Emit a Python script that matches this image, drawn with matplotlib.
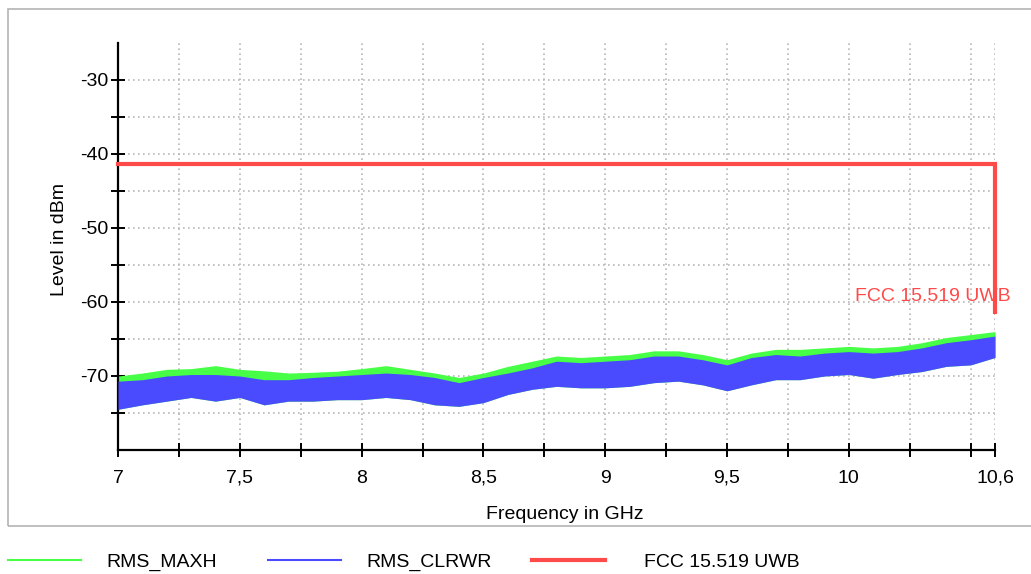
import matplotlib
matplotlib.use("Agg")
import matplotlib.pyplot as plt
from matplotlib.lines import Line2D
from matplotlib.patches import Rectangle
from matplotlib.ticker import FixedLocator, FixedFormatter

plt.rcParams['font.family'] = ['Liberation Sans', 'DejaVu Sans']
plt.rcParams['axes.unicode_minus'] = False

# Frequenzraster in GHz
freq = [7.0, 7.1, 7.2, 7.3, 7.4, 7.5, 7.6, 7.7, 7.8, 7.9,
        8.0, 8.1, 8.2, 8.3, 8.4, 8.5, 8.6, 8.7, 8.8, 8.9,
        9.0, 9.1, 9.2, 9.3, 9.4, 9.5, 9.6, 9.7, 9.8, 9.9,
        10.0, 10.1, 10.2, 10.3, 10.4, 10.5, 10.6]

# RMS_MAXH, obere Huellkurve (dBm)
maxh_top = [-70.0, -69.6, -69.1, -69.0, -68.6, -69.1, -69.3, -69.6, -69.5, -69.35,
            -69.0, -68.6, -69.1, -69.6, -70.2, -69.6, -68.7, -68.0, -67.3, -67.5,
            -67.3, -67.1, -66.6, -66.6, -67.1, -67.8, -66.9, -66.4, -66.4, -66.2,
            -66.0, -66.2, -66.0, -65.5, -64.8, -64.4, -64.0]

# RMS_CLRWR, obere und untere Huellkurve (dBm)
clrwr_top = [-70.7, -70.5, -70.0, -69.8, -69.8, -70.0, -70.5, -70.5, -70.2, -70.0,
             -69.8, -69.6, -69.8, -70.2, -70.9, -70.2, -69.6, -68.9, -68.0, -68.2,
             -68.0, -67.8, -67.3, -67.3, -67.8, -68.5, -67.5, -67.1, -67.3, -66.9,
             -66.7, -66.9, -66.7, -66.2, -65.5, -65.1, -64.6]
clrwr_bot = [-74.5, -73.9, -73.4, -72.9, -73.4, -72.9, -73.9, -73.4, -73.4, -73.2,
             -73.2, -72.9, -73.2, -73.9, -74.1, -73.6, -72.5, -71.8, -71.4, -71.6,
             -71.6, -71.4, -70.9, -70.7, -71.2, -72.0, -71.2, -70.5, -70.5, -70.0,
             -69.8, -70.3, -69.8, -69.4, -68.7, -68.5, -67.5]

# Grenzwert FCC 15.519 UWB
limit_f = [7.0, 10.6, 10.6]
limit_db = [-41.3, -41.3, -61.3]

x_major = [7.0, 7.5, 8.0, 8.5, 9.0, 9.5, 10.0, 10.6]
x_labels = ['7', '7,5', '8', '8,5', '9', '9,5', '10', '10,6']
x_minor = [7.25, 7.75, 8.25, 8.75, 9.25, 9.75, 10.25, 10.5]
y_major = [-70, -60, -50, -40, -30]
y_minor = [-75, -65, -55, -45, -35]

c_green = '#46ff46'
c_blue = '#4a4aff'
c_red = '#ff4a4a'
fs = 14

fig = plt.figure(figsize=(10.31, 5.74), dpi=100)
ax = fig.add_axes([118 / 1031, 1 - 450 / 574, 877 / 1031, 407 / 574])

# Rahmen um den Plotbereich
fig.patches.append(Rectangle((8 / 1031, 1 - 526 / 574), 1.1, 517 / 574,
                             transform=fig.transFigure, fill=False,
                             edgecolor='#b4b4b4', lw=1.2, zorder=0))

ax.fill_between(freq, clrwr_bot, maxh_top, color=c_green, lw=0, zorder=2)
ax.fill_between(freq, clrwr_bot, clrwr_top, color=c_blue, lw=0, zorder=3)
ax.plot(limit_f, limit_db, color=c_red, lw=3, zorder=4, solid_joinstyle='miter',
        clip_on=False)
ax.text(10.665, -59.3, 'FCC 15.519 UWB', color=c_red, fontsize=fs,
        ha='right', va='center', zorder=5, clip_on=False)

ax.set_xlim(7.0, 10.6)
ax.set_ylim(-80, -25)

ax.xaxis.set_major_locator(FixedLocator(x_major))
ax.xaxis.set_major_formatter(FixedFormatter(x_labels))
ax.xaxis.set_minor_locator(FixedLocator(x_minor))
ax.yaxis.set_major_locator(FixedLocator(y_major))
ax.yaxis.set_minor_locator(FixedLocator(y_minor))

ax.grid(True, which='both', color='#b8b8b8', lw=1.2, ls=(0, (1, 2)), zorder=1)
ax.set_axisbelow(True)

for s in ['top', 'right']:
    ax.spines[s].set_visible(False)
for s in ['left', 'bottom']:
    ax.spines[s].set_linewidth(1.6)

ax.tick_params(which='both', direction='inout', length=9.5, width=1.4)
ax.tick_params(axis='x', which='major', pad=19, labelsize=fs)
ax.tick_params(axis='y', which='major', pad=2, labelsize=fs)
# gleiche Grundlinie fuer alle x-Beschriftungen (Komma hat Unterlaenge)
for lbl in ax.get_xticklabels():
    lbl.set_verticalalignment('baseline')

ax.set_xlabel('Frequency in GHz', fontsize=fs)
ax.set_ylabel('Level in dBm', fontsize=fs)
ax.xaxis.set_label_coords(0.51, -0.137)
ax.yaxis.set_label_coords(-0.057, 0.518)

# Legende unterhalb des Rahmens, jeder Eintrag einzeln platziert
entries = [(Line2D([], [], color=c_green, lw=1.5), 'RMS_MAXH', 8, 1.3),
           (Line2D([], [], color=c_blue, lw=1.5), 'RMS_CLRWR', 268, 1.3),
           (Line2D([], [], color=c_red, lw=3), 'FCC 15.519 UWB', 532, 2.0)]
for h, lab, x0, pad in entries:
    fig.legend([h], [lab], loc='center left',
               bbox_to_anchor=(x0 / 1031, 1 - 562 / 574),
               frameon=False, fontsize=fs, handlelength=3.75,
               handletextpad=pad, borderpad=0, borderaxespad=0)

fig.savefig('out.png', dpi=100)
